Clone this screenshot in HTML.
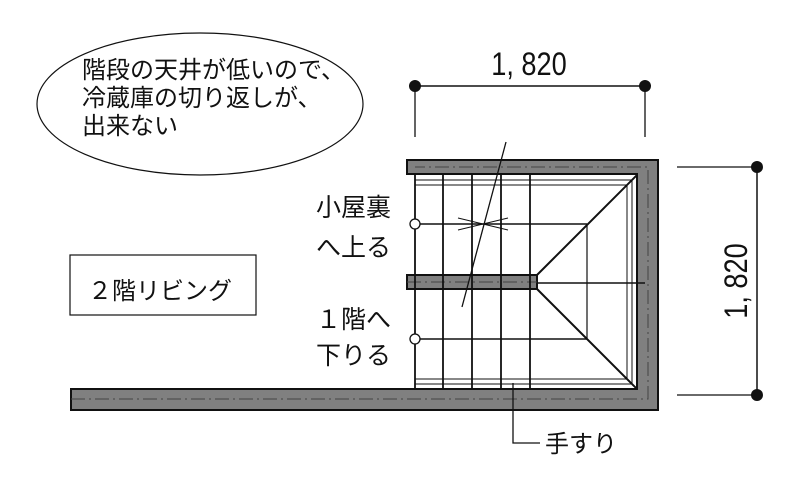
<!DOCTYPE html>
<html><head><meta charset="utf-8"><style>
html,body{margin:0;padding:0;background:#fff;width:800px;height:486px;overflow:hidden}
svg text{font-family:"Liberation Sans","Noto Sans CJK JP",sans-serif;fill:#111}
</style></head><body>
<svg width="800" height="486" viewBox="0 0 800 486" xmlns="http://www.w3.org/2000/svg">
<ellipse cx="200" cy="104" rx="163" ry="71" fill="none" stroke="#111" stroke-width="1.2"/>
<text x="82" y="78" font-size="24">階段の天井が低いので、</text>
<text x="82" y="106" font-size="24">冷蔵庫の切り返しが、</text>
<text x="82" y="134" font-size="24">出来ない</text>
<rect x="70" y="255" width="186" height="60" fill="none" stroke="#111" stroke-width="1.2"/>
<text x="88" y="299" font-size="24">２階リビング</text>
<text x="316" y="216" font-size="25">小屋裏</text>
<text x="316" y="256" font-size="25">へ上る</text>
<text x="316" y="328" font-size="25">１階へ</text>
<text x="316" y="364" font-size="25">下りる</text>
<text x="545" y="452" font-size="24">手すり</text>
<line x1="415" y1="86" x2="645" y2="86" stroke="#111" stroke-width="1.5"/>
<line x1="415" y1="86" x2="415" y2="137" stroke="#111" stroke-width="1.3"/>
<line x1="645" y1="86" x2="645" y2="137" stroke="#111" stroke-width="1.3"/>
<circle cx="415" cy="86" r="6" fill="#111"/><circle cx="645" cy="86" r="6" fill="#111"/>
<text font-size="32" text-anchor="middle" transform="translate(529,75) scale(0.85,1)">1, 820</text>
<line x1="757" y1="167" x2="757" y2="395" stroke="#111" stroke-width="1.5"/>
<line x1="677" y1="167" x2="757" y2="167" stroke="#111" stroke-width="1.3"/>
<line x1="677" y1="395" x2="757" y2="395" stroke="#111" stroke-width="1.3"/>
<circle cx="757" cy="167" r="6" fill="#111"/><circle cx="757" cy="395" r="6" fill="#111"/>
<text font-size="32" text-anchor="middle" transform="translate(747,281) rotate(-90) scale(0.85,1)">1, 820</text>
<path d="M407 160 H658 V410 H71 V389 H637 V174 H407 Z" fill="#808080" stroke="#111" stroke-width="2"/>
<rect x="407" y="275" width="130" height="14" fill="#808080" stroke="#111" stroke-width="2"/>
<g stroke="#444" stroke-width="1" stroke-dasharray="14,4,2,4" fill="none">
<path d="M71 399 H648 V167 H415"/>
<line x1="407" y1="282" x2="537" y2="282"/>
</g>
<g stroke="#111" stroke-width="1.3" fill="none">
<g stroke-width="1.8">
<line x1="415" y1="174" x2="415" y2="389"/>
<line x1="443" y1="174" x2="443" y2="389"/>
<line x1="472" y1="174" x2="472" y2="389"/>
<line x1="501" y1="174" x2="501" y2="389"/>
<line x1="530" y1="174" x2="530" y2="389"/>
</g>
<line x1="415" y1="180" x2="632" y2="180" stroke-width="1"/>
<line x1="415" y1="185" x2="627" y2="185" stroke-width="1"/>
<line x1="415" y1="379" x2="627" y2="379" stroke-width="1"/>
<line x1="415" y1="384" x2="632" y2="384" stroke-width="1"/>
<line x1="627" y1="185" x2="627" y2="379" stroke-width="1"/>
<line x1="632" y1="180" x2="632" y2="384" stroke-width="1"/>
<line x1="420" y1="224" x2="587" y2="224" stroke-width="1.5"/>
<line x1="420" y1="339" x2="587" y2="339" stroke-width="1.5"/>
<line x1="587" y1="224" x2="587" y2="339" stroke-width="1.2"/>
<line x1="537" y1="283" x2="645" y2="283" stroke-width="1.5"/>
<line x1="537" y1="275" x2="637" y2="175" stroke-width="2"/>
<line x1="537" y1="289" x2="637" y2="389" stroke-width="2"/>
<circle cx="415" cy="224" r="5" fill="#fff"/>
<circle cx="415" cy="339" r="5" fill="#fff"/>
<line x1="506" y1="142" x2="462" y2="307"/>
<path d="M458 218 L483 224 L458 230 M508 218 L483 224 L508 230" stroke-width="1"/>
<path d="M513 383 V443 H540"/>
</g>
</svg>
</body></html>
